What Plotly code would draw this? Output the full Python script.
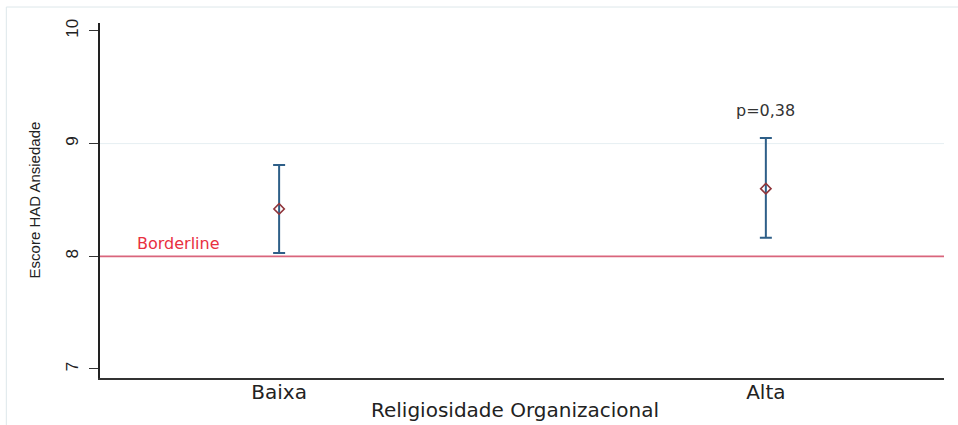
import plotly.graph_objects as go

# Mean anxiety score with 95% CI by level of organizational religiosity
categories = ["Baixa", "Alta"]
means = [8.42, 8.60]
ci_upper = [8.81, 9.05]
ci_lower = [8.03, 8.165]
borderline = 8
p_label = "p=0,38"
y_ticks = [7, 8, 9, 10]

x_pos = list(range(1, len(categories) + 1))
err_plus = [u - m for u, m in zip(ci_upper, means)]
err_minus = [m - l for m, l in zip(means, ci_lower)]

WIDE = "DejaVu Sans, Verdana, sans-serif"
NARROW = "Liberation Sans, Arial, sans-serif"

fig = go.Figure()
fig.add_trace(go.Scatter(
    x=x_pos, y=means, mode="markers",
    marker=dict(symbol="diamond-open", size=8, color="#90353b",
                line=dict(width=1.6, color="#90353b")),
    error_y=dict(type="data", symmetric=False, array=err_plus, arrayminus=err_minus,
                 color="#2e5f88", thickness=2, width=6),
    showlegend=False,
))

# Borderline reference line
fig.add_shape(type="line", xref="paper", yref="y", x0=0, x1=1,
              y0=borderline, y1=borderline, line=dict(color="#d9657c", width=1.8))
# light grid line at 9
fig.add_shape(type="line", xref="paper", yref="y", x0=0, x1=1, y0=9, y1=9,
              line=dict(color="#e6eff2", width=1), layer="below")
# outer frame
fig.add_shape(type="rect", xref="paper", yref="paper",
              x0=-0.111, x1=1.02, y0=-0.15, y1=1.045,
              line=dict(color="#dde7ea", width=1))

fig.add_annotation(x=0.704, y=borderline, xref="x", yref="y", text="Borderline",
                   showarrow=False, xanchor="left", yanchor="bottom", yshift=1,
                   font=dict(family=WIDE, size=16, color="#e8303f"))
fig.add_annotation(x=x_pos[1], y=ci_upper[1], xref="x", yref="y", text=p_label,
                   showarrow=False, yanchor="bottom", yshift=16,
                   font=dict(family=WIDE, size=16, color="#333333"))

# axis titles
fig.add_annotation(x=0.4917, y=-0.090, xref="paper", yref="paper",
                   text="Religiosidade Organizacional", showarrow=False,
                   xanchor="center", yanchor="middle",
                   font=dict(family=WIDE, size=20, color="#222222"))
fig.add_annotation(x=-0.0782, y=0.503, xref="paper", yref="paper",
                   text="Escore HAD Ansiedade", showarrow=False, textangle=-90,
                   xanchor="center", yanchor="middle",
                   font=dict(family=NARROW, size=15, color="#222222"))

fig.update_layout(
    width=958, height=425,
    margin=dict(l=100, r=14, t=23, b=47),
    paper_bgcolor="white", plot_bgcolor="white",
    font=dict(family=NARROW, color="#222222"),
    xaxis=dict(range=[0.632, 2.366], tickvals=x_pos, ticktext=categories,
               showgrid=False, zeroline=False, showline=True, linecolor="#333333",
               linewidth=1.5, ticks="", tickfont=dict(family=WIDE, size=20),
               ticklabelstandoff=-5, automargin=False),
    yaxis=dict(range=[6.92, 10.07], tickvals=y_ticks, tickangle=-90,
               showgrid=False, zeroline=False, showline=True, linecolor="#222222",
               linewidth=1.5, ticks="outside", ticklen=9, tickcolor="#333333",
               tickfont=dict(size=17), ticklabelstandoff=4, automargin=False),
)

fig.write_html("out.html")
